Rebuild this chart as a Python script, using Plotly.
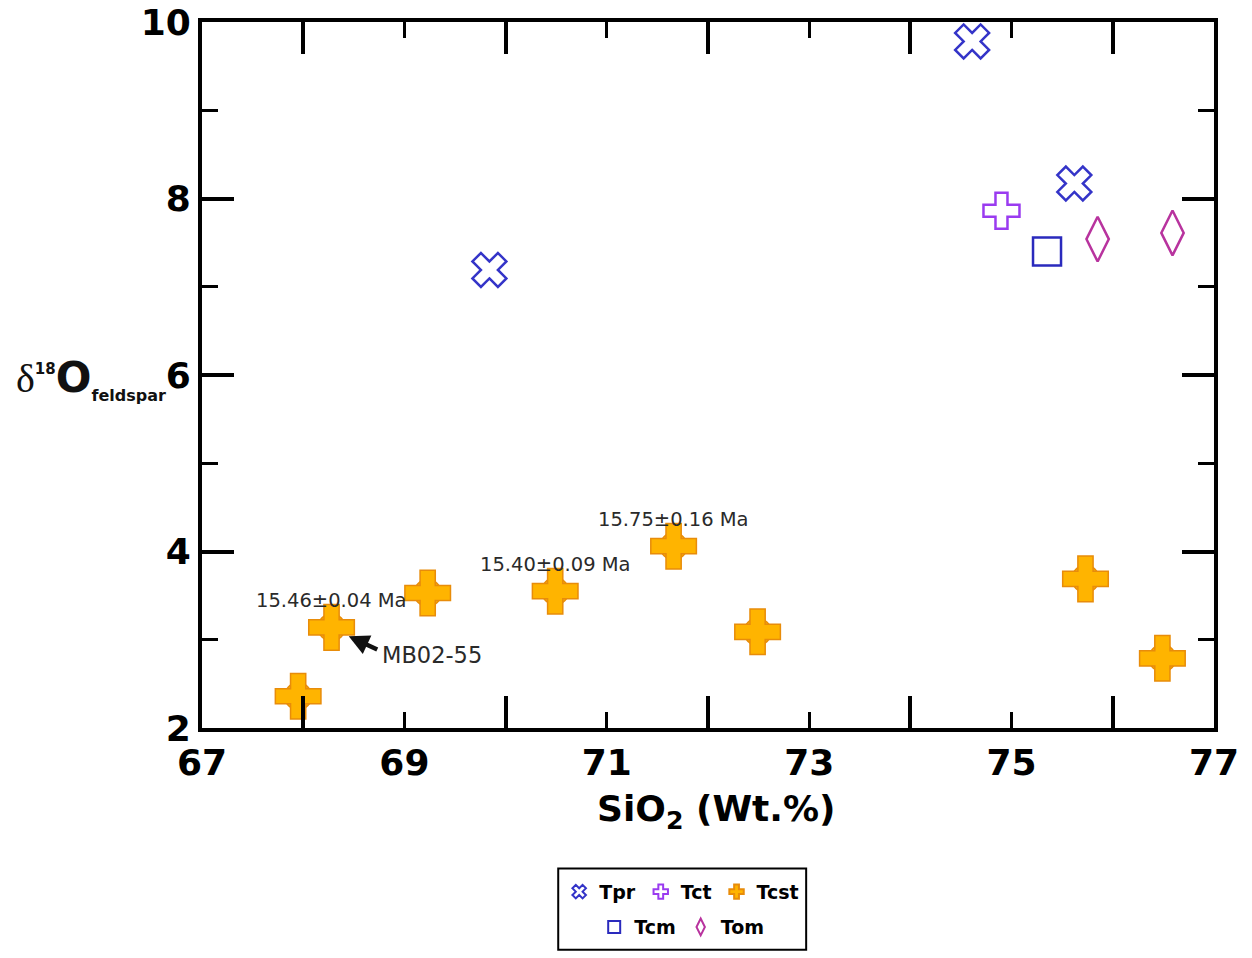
import plotly.graph_objects as go

# Data (SiO2 wt.%, d18O feldspar)
tpr_x = [69.84, 74.61, 75.62]
tpr_y = [7.19, 9.78, 8.17]
tct_x = [74.90]
tct_y = [7.86]
tcst_x = [67.95, 68.28, 69.23, 70.49, 71.66, 72.49, 75.73, 76.49]
tcst_y = [2.36, 3.14, 3.53, 3.55, 4.06, 3.09, 3.69, 2.79]
tcm_x = [75.35]
tcm_y = [7.40]
tom_x = [75.85, 76.59]
tom_y = [7.54, 7.61]

# Age labels attached to Tcst samples
age_idx = [1, 3, 4]
age_text = ["15.46±0.04 Ma", "15.40±0.09 Ma", "15.75±0.16 Ma"]

x_labels = [67, 69, 71, 73, 75, 77]
x_major_ticks = [68, 70, 72, 74, 76]
y_labels = [2, 4, 6, 8, 10]
y_minor_ticks = [3, 5, 7, 9]

FONT = "DejaVu Sans"
ORANGE = "#FFB400"
ORANGE_EDGE = "#E88C0A"

fig = go.Figure()
fig.add_trace(go.Scatter(x=tpr_x, y=tpr_y, mode="markers", name="Tpr", legend="legend",
                         marker=dict(symbol="x-open", size=30, color="#3434C8", line=dict(width=2.5, color="#3434C8"))))
fig.add_trace(go.Scatter(x=tct_x, y=tct_y, mode="markers", name="Tct", legend="legend",
                         marker=dict(symbol="cross-open", size=30, color="#9A3BF0", line=dict(width=2.5, color="#9A3BF0"))))
# rounded body of the Tcst marker (under the cross)
fig.add_trace(go.Scatter(x=tcst_x, y=tcst_y, mode="markers", name="Tcst", legend="legend", showlegend=False,
                         hoverinfo="skip",
                         marker=dict(symbol="circle", size=27, color=ORANGE, line=dict(width=1.5, color=ORANGE_EDGE))))
fig.add_trace(go.Scatter(x=tcst_x, y=tcst_y, mode="markers", name="Tcst", legend="legend",
                         marker=dict(symbol="cross", size=38, color=ORANGE, line=dict(width=1.5, color=ORANGE_EDGE))))
fig.add_trace(go.Scatter(x=tcm_x, y=tcm_y, mode="markers", name="Tcm", legend="legend2",
                         marker=dict(symbol="square-open", size=28, color="#2A2ABD", line=dict(width=2.5, color="#2A2ABD"))))
fig.add_trace(go.Scatter(x=tom_x, y=tom_y, mode="markers", name="Tom", legend="legend2",
                         marker=dict(symbol="diamond-tall-open", size=32, color="#B8339E", line=dict(width=2.5, color="#B8339E"))))

annotations = []
for i, t in zip(age_idx, age_text):
    annotations.append(dict(x=tcst_x[i], y=tcst_y[i], text=t, showarrow=False, yshift=27,
                            font=dict(family=FONT, size=19.5, color="#2a2a2a")))
# MB02-55 label with arrow
annotations.append(dict(x=68.45, y=3.04, text="", showarrow=True, arrowhead=2,
                        arrowsize=0.9, arrowwidth=4.5, arrowcolor="#111", ax=30, ay=14,
                        standoff=0))
annotations.append(dict(x=69.27, y=2.83, text="MB02-55", showarrow=False,
                        font=dict(family=FONT, size=22.5, color="#2a2a2a")))
# y-axis title
annotations.append(dict(xref="paper", yref="paper", x=-0.11, y=0.495, xanchor="center", yanchor="middle",
                        showarrow=False,
                        text="<span style='font-family:Liberation Serif;font-size:40px'>δ</span>"
                             "<sup><b><span style='font-size:15px'>18</span></b></sup>"
                             "<b>O</b>"
                             "<sub><b><span style='font-size:16px'>feldspar</span></b></sub>",
                        font=dict(family=FONT, size=42, color="#111")))
# x-axis title
annotations.append(dict(xref="paper", yref="paper", x=0.508, y=-0.118, xanchor="center", yanchor="middle",
                        showarrow=False, text="<b>SiO<sub>2</sub> (Wt.%)</b>",
                        font=dict(family=FONT, size=36, color="black")))
fig.update_layout(annotations=annotations)

fig.add_shape(type="rect", xref="paper", yref="paper", x0=0.352, x1=0.597, y0=-0.314, y1=-0.199,
              line=dict(color="black", width=2), fillcolor="rgba(0,0,0,0)")

axis_common = dict(showgrid=False, zeroline=False, showline=True, linecolor="black", linewidth=4,
                   mirror="allticks", ticks="inside", tickcolor="black", automargin=False,
                   tickfont=dict(family=FONT, size=36, color="black", weight="bold"))

fig.update_xaxes(range=[67, 77], tickmode="array", tickvals=x_labels, ticktext=[str(v) for v in x_labels],
                 ticklen=16, tickwidth=3,
                 minor=dict(tickmode="array", tickvals=x_major_ticks, ticklen=32, tickwidth=4,
                            ticks="inside", tickcolor="black"),
                 **axis_common)
fig.update_yaxes(range=[2, 10], tickmode="array", tickvals=y_labels, ticktext=[str(v) for v in y_labels],
                 ticklen=32, tickwidth=4,
                 minor=dict(tickmode="array", tickvals=y_minor_ticks, ticklen=16, tickwidth=3,
                            ticks="inside", tickcolor="black"),
                 **axis_common)

legend_common = dict(orientation="h", xanchor="center", yanchor="middle", x=0.474,
                     bgcolor="rgba(0,0,0,0)", borderwidth=0,
                     font=dict(family=FONT, size=19, color="black", weight="bold"),
                     itemsizing="constant", itemwidth=30)
fig.update_layout(
    width=1252, height=958,
    margin=dict(l=202, r=38, t=22, b=226),
    paper_bgcolor="white", plot_bgcolor="white",
    showlegend=True,
    legend=dict(y=-0.232, **legend_common),
    legend2=dict(y=-0.282, **legend_common),
)

fig.write_html("out.html")
